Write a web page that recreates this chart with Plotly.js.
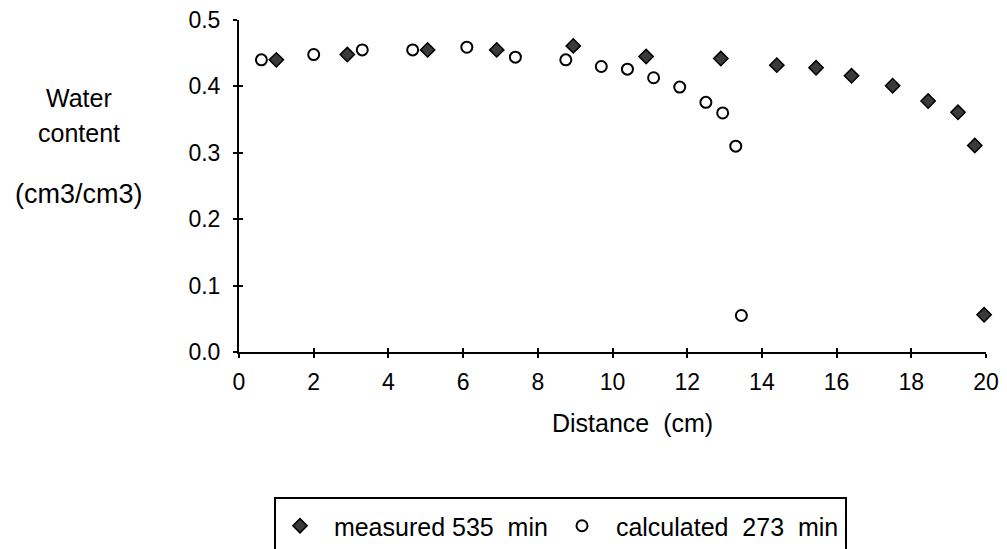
<!DOCTYPE html>
<html>
<head>
<meta charset="utf-8">
<script src="https://cdn.plot.ly/plotly-3.0.1.min.js"></script>
<style>html,body{margin:0;padding:0;background:#fff;}#chart{width:1007px;height:549px;}</style>
</head>
<body>
<div id="chart"></div>
<script>
// Measured 535 min (filled diamonds)
const measuredX = [1.0, 2.9, 5.05, 6.9, 8.95, 10.9, 12.9, 14.4, 15.45, 16.4, 17.5, 18.45, 19.25, 19.7, 19.95];
const measuredY = [0.440, 0.448, 0.455, 0.455, 0.461, 0.445, 0.442, 0.432, 0.428, 0.416, 0.401, 0.378, 0.361, 0.311, 0.056];
// Calculated 273 min (open circles)
const calcX = [0.6, 2.0, 3.3, 4.65, 6.1, 7.4, 8.75, 9.7, 10.4, 11.1, 11.8, 12.5, 12.95, 13.3, 13.45];
const calcY = [0.440, 0.448, 0.455, 0.455, 0.459, 0.444, 0.440, 0.430, 0.426, 0.413, 0.399, 0.376, 0.360, 0.310, 0.055];
const xTicks = [0, 2, 4, 6, 8, 10, 12, 14, 16, 18, 20];
const yTicks = [0.0, 0.1, 0.2, 0.3, 0.4, 0.5];
const yTickText = ['0.0', '0.1', '0.2', '0.3', '0.4', '0.5'];
const seriesNames = ['&nbsp;&nbsp;measured 535&nbsp; min', '&nbsp;&nbsp;calculated&nbsp; 273&nbsp; min'];

const FONT = 'Liberation Sans, Arial, Helvetica, sans-serif';

const traces = [
  {
    x: measuredX, y: measuredY, name: seriesNames[0], type: 'scatter', mode: 'markers', cliponaxis: false,
    marker: {symbol: 'diamond', size: 11, color: '#3a3a3a', line: {color: '#000', width: 1.5}}
  },
  {
    x: calcX, y: calcY, name: seriesNames[1], type: 'scatter', mode: 'markers', cliponaxis: false,
    marker: {symbol: 'circle', size: 11, color: '#ffffff', line: {color: '#000', width: 2}}
  }
];

const axisCommon = {
  showgrid: false, zeroline: false, showline: true, linecolor: '#000', linewidth: 2,
  ticks: 'outside', ticklen: 4, tickwidth: 2, tickcolor: '#000',
  tickfont: {family: FONT, size: 23, color: '#000'}
};

const layout = {
  width: 1007, height: 549,
  margin: {l: 239, r: 21, t: 20, b: 197},
  paper_bgcolor: '#fff', plot_bgcolor: '#fff',
  font: {family: FONT, size: 25, color: '#000'},
  xaxis: Object.assign({}, axisCommon, {range: [0, 20], tickvals: xTicks, ticktext: xTicks.map(String), ticklabelstandoff: 4}),
  yaxis: Object.assign({}, axisCommon, {range: [0, 0.5], tickvals: yTicks, ticktext: yTickText, ticklabelstandoff: 8}),
  xaxis2: {overlaying: 'x', matches: 'x', range: [0, 20], tickvals: xTicks, showticklabels: false, ticks: 'inside', ticklen: 4, tickwidth: 2, tickcolor: '#000', showgrid: false, zeroline: false, showline: false},
  yaxis2: {overlaying: 'y', matches: 'y', range: [0, 0.5], tickvals: yTicks, showticklabels: false, ticks: 'inside', ticklen: 4, tickwidth: 2, tickcolor: '#000', showgrid: false, zeroline: false, showline: false},
  showlegend: true,
  legend: {
    orientation: 'h', xref: 'container', yref: 'container',
    x: 280 / 1007, xanchor: 'left', y: (549 - 503) / 549, yanchor: 'top',
    entrywidth: 237, entrywidthmode: 'pixels',
    font: {family: FONT, size: 25, color: '#000'}, bgcolor: 'rgba(0,0,0,0)', borderwidth: 0
  },
  shapes: [
    {type: 'rect', xref: 'paper', yref: 'paper', x0: (275 - 239) / 747, x1: (846 - 239) / 747,
     y0: (352 - 570) / 332, y1: (352 - 498) / 332, line: {color: '#000', width: 2}, fillcolor: 'rgba(0,0,0,0)'}
  ],
  annotations: [
    {text: 'Water', xref: 'paper', yref: 'paper', x: (79 - 239) / 747, y: (352 - 98) / 332, xanchor: 'center', yanchor: 'middle', showarrow: false, font: {family: FONT, size: 25}},
    {text: 'content', xref: 'paper', yref: 'paper', x: (79 - 239) / 747, y: (352 - 133) / 332, xanchor: 'center', yanchor: 'middle', showarrow: false, font: {family: FONT, size: 25}},
    {text: '(cm3/cm3)', xref: 'paper', yref: 'paper', x: (79 - 239) / 747, y: (352 - 194) / 332, xanchor: 'center', yanchor: 'middle', showarrow: false, font: {family: FONT, size: 27}},
    {text: 'Distance&nbsp; (cm)', xref: 'paper', yref: 'paper', x: (632 - 239) / 747, y: (352 - 423) / 332, xanchor: 'center', yanchor: 'middle', showarrow: false, font: {family: FONT, size: 25}}
  ]
};

// invisible helper trace so the inside-tick overlay axes are drawn
traces.push({x: [0], y: [0], xaxis: 'x2', yaxis: 'y2', mode: 'markers', marker: {opacity: 0}, showlegend: false, hoverinfo: 'skip'});

Plotly.newPlot('chart', traces, layout, {displayModeBar: false, staticPlot: true});
</script>
</body>
</html>
